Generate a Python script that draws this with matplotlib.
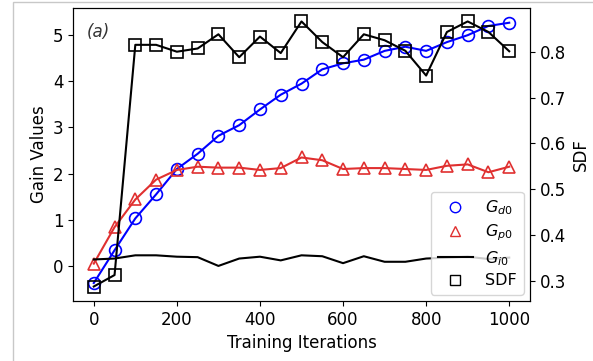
import matplotlib
matplotlib.use("Agg")
import matplotlib.pyplot as plt
from matplotlib.lines import Line2D
from matplotlib.patches import Rectangle

iterations = [0, 50, 100, 150, 200, 250, 300, 350, 400, 450, 500,
              550, 600, 650, 700, 750, 800, 850, 900, 950, 1000]
gd0 = [-0.37, 0.34, 1.03, 1.55, 2.10, 2.43, 2.82, 3.05, 3.39, 3.71, 3.95,
       4.26, 4.39, 4.47, 4.66, 4.75, 4.66, 4.85, 5.00, 5.20, 5.27]
gp0 = [0.05, 0.84, 1.44, 1.87, 2.08, 2.15, 2.13, 2.13, 2.08, 2.12, 2.35,
       2.29, 2.10, 2.12, 2.12, 2.10, 2.08, 2.17, 2.20, 2.03, 2.15]
gi0 = [0.14, 0.16, 0.23, 0.23, 0.20, 0.19, 0.00, 0.16, 0.20, 0.12, 0.23,
       0.21, 0.06, 0.21, 0.09, 0.09, 0.16, 0.18, 0.20, 0.15, 0.18]
sdf = [0.288, 0.313, 0.815, 0.815, 0.800, 0.807, 0.838, 0.788, 0.833, 0.797, 0.866,
       0.821, 0.788, 0.838, 0.825, 0.802, 0.748, 0.843, 0.866, 0.843, 0.801]

plt.rcParams['font.family'] = ['DejaVu Sans']
fs = 12

fig = plt.figure(figsize=(5.93, 3.61), dpi=100)
ax = fig.add_axes([73/593, 1 - 301/361, (530 - 73)/593, (301 - 7.5)/361])

ax.plot(iterations, gd0, color='blue', marker='o', markersize=8.5,
        markerfacecolor='none', markeredgewidth=1.2, linewidth=1.5)
ax.plot(iterations, gp0, color='#e03030', marker='^', markersize=8,
        markerfacecolor='none', markeredgewidth=1.2, linewidth=1.5)
ax.plot(iterations, gi0, color='black', linewidth=1.5)
ax.set_xlim(-50, 1050)
ax.set_ylim(-0.76, 5.6)
ax.set_xlabel('Training Iterations', fontsize=fs)
ax.set_ylabel('Gain Values', fontsize=fs, labelpad=3)
ax.tick_params(labelsize=fs)
ax.text(0.031, 0.915, '(a)', transform=ax.transAxes, fontsize=fs,
        style='italic', va='center', ha='left', color='#333333')

ax2 = ax.twinx()
ax2.plot(iterations, sdf, color='black', marker='s', markersize=9,
         markerfacecolor='none', markeredgewidth=1.2, linewidth=1.5)
ax2.set_ylim(0.2564, 0.8964)
ax2.set_ylabel('SDF', fontsize=fs)
ax2.tick_params(labelsize=fs)

handles = [
    Line2D([], [], color='blue', marker='o', linestyle='none',
           markerfacecolor='none', markersize=7.5),
    Line2D([], [], color='#e03030', marker='^', linestyle='none',
           markerfacecolor='none', markersize=7.5),
    Line2D([], [], color='black', linewidth=1.5),
    Line2D([], [], color='black', marker='s', linestyle='none',
           markerfacecolor='none', markersize=7.5),
]
labels = ['$G_{d0}$', '$G_{p0}$', '$G_{i0}$', 'SDF']
ax2.legend(handles, labels, loc='lower right', fontsize=11.5,
           borderaxespad=0.4, handlelength=2.2, labelspacing=0.35,
           borderpad=0.4)

fig.patches.append(Rectangle((13/593, -0.01), 1.0, 1 - 2/361 + 0.01,
                             transform=fig.transFigure, fill=False,
                             edgecolor='#c8c8c8', linewidth=1.0))

fig.savefig('out.png', dpi=100)
